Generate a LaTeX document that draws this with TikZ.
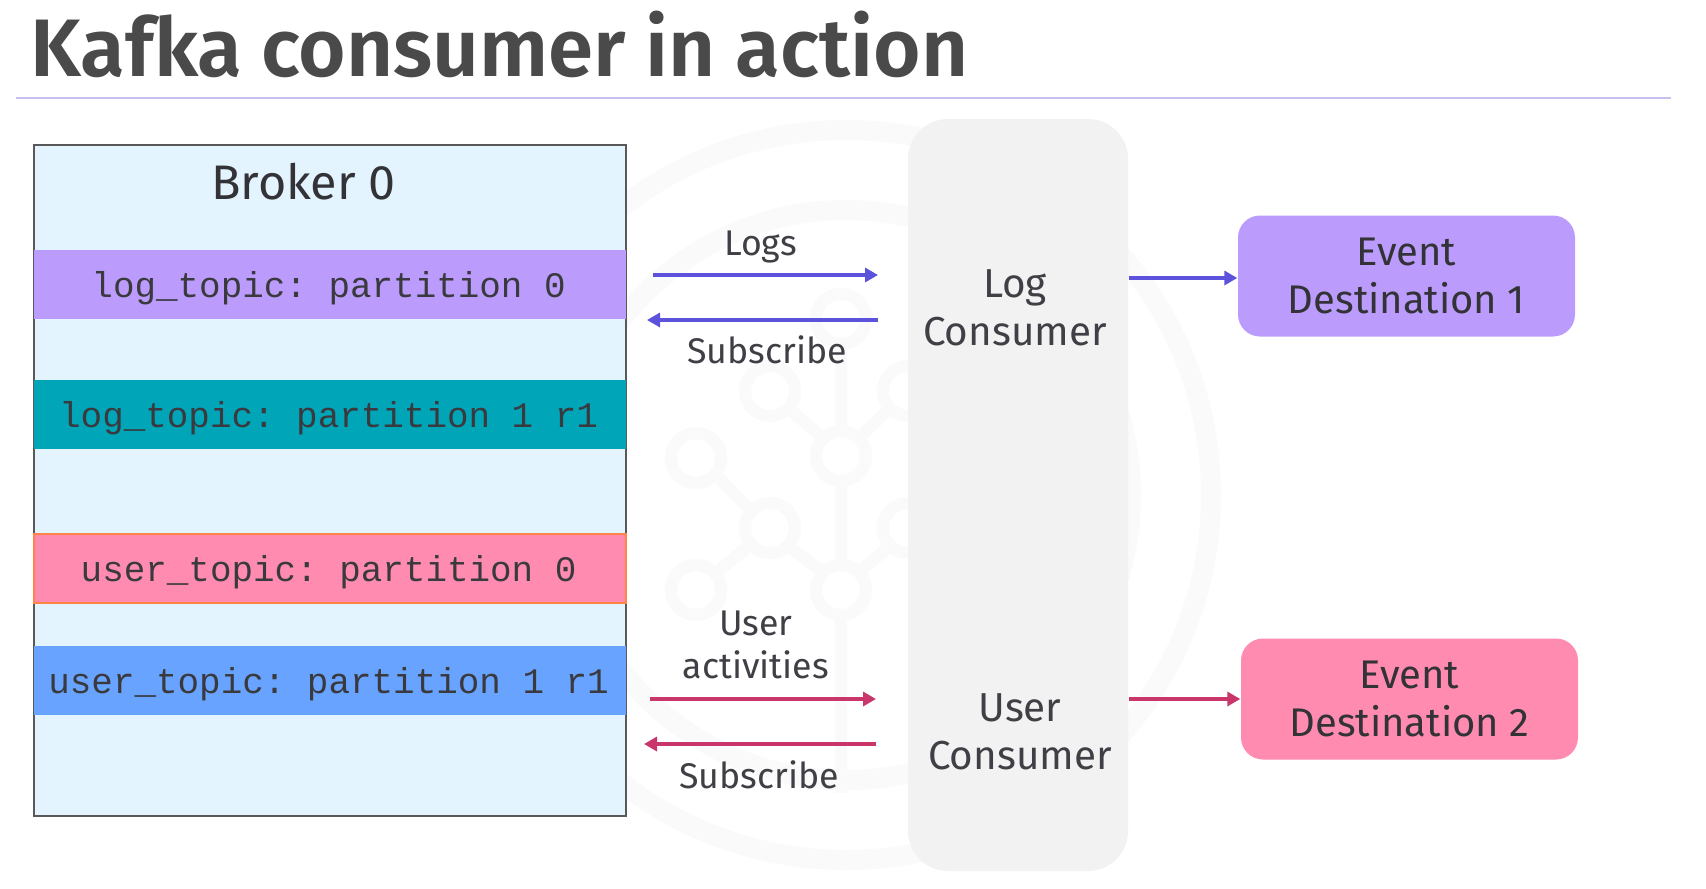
\documentclass[tikz,border=0pt]{standalone}
\usepackage{fontspec}
\setmainfont{Fira Sans}
\setmonofont{Liberation Mono}
\newfontfamily\titlefont{Fira Sans SemiBold}
\usetikzlibrary{arrows.meta}
\definecolor{titlegray}{HTML}{4A4A4A}
\definecolor{textgray}{HTML}{3F3F45}
\definecolor{ruleviolet}{HTML}{C8C0EE}
\definecolor{brokerblue}{HTML}{E3F4FF}
\definecolor{bandviolet}{HTML}{BB9CFC}
\definecolor{bandteal}{HTML}{00A6B8}
\definecolor{bandpink}{HTML}{FF8CB0}
\definecolor{bandblue}{HTML}{68A4FF}
\definecolor{arrowviolet}{HTML}{5C52DC}
\definecolor{arrowpink}{HTML}{C9366C}
\newcommand{\bandtext}[1]{\kern-.8pt\raisebox{-.93pt}[\height][\depth]{#1}}
\tikzset{
    band/.style={minimum width=5.92cm,minimum height=.69cm,inner sep=0pt,font=\ttfamily\fontsize{10.22}{12}\selectfont,text=textgray!90!black},
    dest/.style={rounded corners=.22cm,minimum width=3.37cm,minimum height=1.21cm,inner sep=0pt,align=center,text=textgray!80!black,font=\fontsize{11.37}{13.6}\selectfont},
    flowlabel/.style={align=center,text=textgray,font=\fontsize{10.15}{12}\selectfont},
    cons/.style={align=center,text=textgray,font=\fontsize{11.5}{13.6}\selectfont},
    flow/.style={line width=.04cm,-{Triangle[length=.13cm,width=.14cm]}},
    logo/.style={draw=black!2,line width=.12cm},
}

\begin{document}
\begin{tikzpicture}
    \useasboundingbox (0,0) rectangle (17.06,8.88);
    \fill[white] (0,0) rectangle (17.06,8.88);

    % watermark
    \draw[black!2,line width=.2cm] (8.46,3.93) circle(3.65);
    \draw[black!2,line width=.2cm] (8.46,3.93) circle(2.85);
    \foreach \x/\y in {8.41/5.69,7.70/4.97,8.41/4.32,9.08/4.97,6.96/4.30,7.70/3.60,6.96/2.98,8.41/2.98,9.08/3.60}
        \draw[logo] (\x,\y) circle(.25);
    \draw[logo] (8.41,5.44) -- (8.41,4.57) (8.41,4.07) -- (8.41,3.23) (8.41,2.73) -- (8.41,.95);
    \draw[logo] (7.88,4.80) -- (8.23,4.50) (8.90,4.80) -- (8.59,4.50);
    \draw[logo] (7.15,4.14) -- (7.51,3.77) (7.15,3.14) -- (7.51,3.44) (7.88,3.42) -- (8.23,3.16) (8.90,3.42) -- (8.59,3.16);

    \node[anchor=base west,inner sep=0pt,font=\titlefont\fontsize{23.2}{26}\selectfont,text=titlegray] (title) at (.30,8.12) {Kafka consumer in action};
    \coordinate (ruleleft) at (.16,7.90);
    \coordinate (ruleright) at (16.71,7.90);
    \draw[ruleviolet,line width=.02cm] (ruleleft) -- (ruleright);

    % broker with its partitions
    \node[draw=black!65,fill=brokerblue,line width=.018cm,minimum width=5.92cm,minimum height=6.71cm,inner sep=0pt] (broker) at (3.30,4.075) {};
    \node[text=textgray!80!black,font=\fontsize{13.8}{16}\selectfont] (brokerlabel) at (3.035,7.06) {Broker 0};
    \node[band,fill=bandviolet] (logzero) at (3.30,6.035) {\bandtext{log\_topic: partition 0}};
    \node[band,fill=bandteal] (logone) at (3.30,4.735) {\bandtext{log\_topic: partition 1 r1}};
    \node[band,fill=bandpink,draw=orange!60!bandpink,line width=.015cm] (userzero) at (3.30,3.195) {\bandtext{user\_topic: partition 0}};
    \node[band,fill=bandblue] (userone) at (3.30,2.075) {\bandtext{user\_topic: partition 1 r1}};

    % consumers
    \node[fill=black!5,rounded corners=.4cm,minimum width=2.2cm,minimum height=7.52cm,inner sep=0pt] (consumer) at (10.18,3.93) {};
    \node[cons] (logcons) at (10.15,5.80) {Log\\Consumer};
    \node[cons] (usercons) at (10.20,1.56) {User\\Consumer};

    \node[dest,fill=bandviolet] (destone) at (14.065,6.12) {Event\\Destination 1};
    \node[dest,fill=bandpink] (desttwo) at (14.095,1.89) {Event\\Destination 2};

    \coordinate (logsfrom) at (6.53,6.13);
    \coordinate (logsto) at (8.78,6.13);
    \coordinate (subafrom) at (8.78,5.68);
    \coordinate (subato) at (6.47,5.68);
    \coordinate (userfrom) at (6.50,1.89);
    \coordinate (userto) at (8.76,1.89);
    \coordinate (subbfrom) at (8.76,1.44);
    \coordinate (subbto) at (6.44,1.44);

    \draw[flow,arrowviolet] (logsfrom) -- (logsto);
    \draw[flow,arrowviolet] (subafrom) -- (subato);
    \draw[flow,arrowpink] (userfrom) -- (userto);
    \draw[flow,arrowpink] (subbfrom) -- (subbto);
    \draw[flow,arrowviolet] ([yshift=-.02cm]consumer.east |- destone.west) -- ([yshift=-.02cm]destone.west);
    \draw[flow,arrowpink] (consumer.east |- desttwo.west) -- (desttwo.west);

    \node[flowlabel] (logslabel) at (7.605,6.41) {Logs};
    \node[flowlabel] (subalabel) at (7.67,5.38) {Subscribe};
    \node[flowlabel] (userlabel) at (7.56,2.43) {User\\activities};
    \node[flowlabel] (subblabel) at (7.59,1.13) {Subscribe};
\end{tikzpicture}
\end{document}
